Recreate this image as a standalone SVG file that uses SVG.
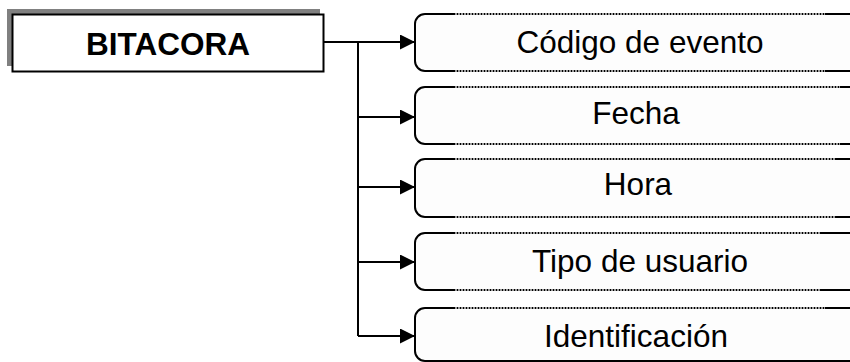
<svg xmlns="http://www.w3.org/2000/svg" width="850" height="362" viewBox="0 0 850 362">
<style>
.lbl{font-family:"Liberation Sans",Arial,sans-serif;font-size:31.5px;fill:#000;text-anchor:middle}
.title{font-family:"Liberation Sans",Arial,sans-serif;font-size:31.5px;font-weight:bold;fill:#000;text-anchor:middle}
.box{fill:#fdfdfd;stroke:#000;stroke-width:2}
.edge{fill:none;stroke:#9a9a9a;stroke-width:2;stroke-dasharray:2 1}
.conn{fill:none;stroke:#000;stroke-width:2}
</style>
<defs>
<marker id="ah" markerUnits="userSpaceOnUse" markerWidth="16" markerHeight="16" refX="15" refY="7.5" orient="auto">
<path d="M0,0 L15,7.5 L0,15 Z" fill="#000"/>
</marker>
</defs>
<rect width="850" height="362" fill="#fff"/>
<g id="bitacora">
<rect x="7" y="9" width="313" height="57" fill="#808080"/>
<rect x="12.5" y="14.5" width="311" height="57" fill="#fff" stroke="#000" stroke-width="2"/>
<text class="title" x="168" y="55">BITACORA</text>
</g>
<g id="connectors">
<path class="conn" d="M324,42 H358 V336"/>
<path class="conn" d="M358,42 H415" marker-end="url(#ah)"/>
<path class="conn" d="M358,117 H415" marker-end="url(#ah)"/>
<path class="conn" d="M358,187 H415" marker-end="url(#ah)"/>
<path class="conn" d="M358,262 H415" marker-end="url(#ah)"/>
<path class="conn" d="M358,336 H415" marker-end="url(#ah)"/>
</g>
<g id="codigo">
<path class="box" d="M860,14 H425 A10,10 0 0 0 415,24 V61 A10,10 0 0 0 425,71 H860"/>
<path class="edge" d="M455,14 H825 M455,71 H825"/>
<text class="lbl" x="640" y="53">Código de evento</text>
</g>
<g id="fecha">
<path class="box" d="M860,87 H425 A10,10 0 0 0 415,97 V134 A10,10 0 0 0 425,144 H860"/>
<path class="edge" d="M455,87 H840 M455,144 H840"/>
<text class="lbl" x="636" y="124">Fecha</text>
</g>
<g id="hora">
<path class="box" d="M860,159 H425 A10,10 0 0 0 415,169 V207 A10,10 0 0 0 425,217 H860"/>
<path class="edge" d="M455,159 H835 M455,217 H835"/>
<text class="lbl" x="638" y="195">Hora</text>
</g>
<g id="tipo">
<path class="box" d="M860,233 H425 A10,10 0 0 0 415,243 V280 A10,10 0 0 0 425,290 H860"/>
<path class="edge" d="M455,233 H820 M455,290 H820"/>
<text class="lbl" x="640" y="272">Tipo de usuario</text>
</g>
<g id="identificacion">
<path class="box" d="M860,308 H425 A10,10 0 0 0 415,318 V351 A10,10 0 0 0 425,361 H860"/>
<path class="edge" d="M455,308 H825"/>
<text class="lbl" x="636" y="347">Identificación</text>
</g>
</svg>
